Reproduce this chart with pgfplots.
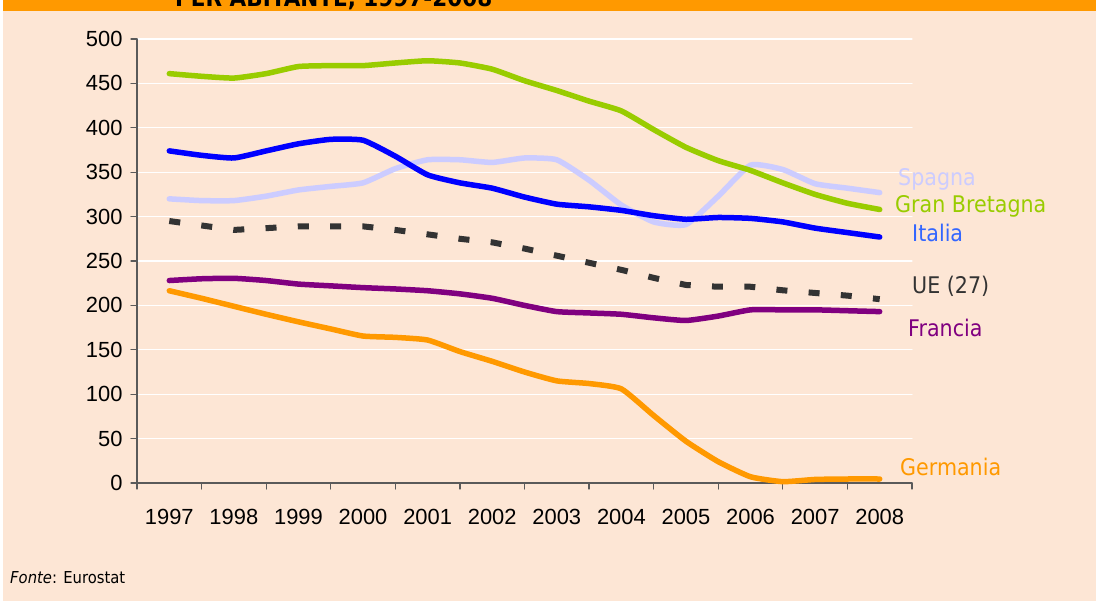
\documentclass[border=0pt]{standalone}
\usepackage{pgfplots}
\pgfplotsset{compat=1.18}
\usepackage{fontspec}
\setmainfont{Liberation Sans}
\newfontfamily\tah[FakeStretch=0.9]{DejaVu Sans}
\definecolor{bgpeach}{RGB}{253,230,213}
\definecolor{band}{RGB}{255,153,0}
\definecolor{axisgray}{RGB}{90,90,90}
\definecolor{cGB}{RGB}{153,204,0}
\definecolor{cIT}{RGB}{0,0,255}
\definecolor{cITl}{RGB}{51,102,255}
\definecolor{cES}{RGB}{204,204,255}
\definecolor{cUE}{RGB}{51,51,51}
\definecolor{cFR}{RGB}{128,0,128}
\definecolor{cDE}{RGB}{255,153,0}

\pgfplotstableread{
x y
1997 461
1997.5 458
1998 456
1998.5 461
1999 469
1999.5 470
2000 470
2000.5 473
2001 475.5
2001.5 473
2002 466
2002.5 453
2003 442
2003.5 430
2004 419
2004.5 398
2005 378
2005.5 363
2006 352
2006.5 338
2007 325
2007.5 315
2008 308
}\dataGB

\pgfplotstableread{
x y
1997 374
1997.5 369
1998 366
1998.5 374
1999 382
1999.5 387
2000 386
2000.5 368
2001 347
2001.5 338
2002 332
2002.5 322
2003 314
2003.5 311
2004 307
2004.5 301
2005 297
2005.5 299
2006 298
2006.5 294
2007 287
2007.5 282
2008 277
}\dataIT

\pgfplotstableread{
x y
1997 320
1997.5 318
1998 318
1998.5 323
1999 330
1999.5 334
2000 338
2000.5 354
2001 364
2001.5 364
2002 361
2002.5 366
2003 364
2003.5 341
2004 313
2004.5 294
2005 291
2005.5 323
2006 358
2006.5 353
2007 337
2007.5 332
2008 327
}\dataES

\pgfplotstableread{
x y
1997 295
1997.5 290
1998 285
1998.5 287
1999 289
1999.5 289
2000 289
2000.5 285
2001 280
2001.5 275
2002 271
2002.5 264
2003 256
2003.5 248
2004 240
2004.5 231
2005 223
2005.5 221
2006 221
2006.5 217
2007 214
2007.5 211
2008 207
}\dataUE

\pgfplotstableread{
x y
1997 228
1997.5 230
1998 230.5
1998.5 228
1999 224
1999.5 222
2000 220
2000.5 218.5
2001 216.5
2001.5 213
2002 208
2002.5 200
2003 193
2003.5 191.5
2004 190
2004.5 186
2005 183
2005.5 188
2006 195
2006.5 195
2007 195
2007.5 194
2008 193
}\dataFR

\pgfplotstableread{
x y
1997 216.5
1997.5 208
1998 199
1998.5 190
1999 181.5
1999.5 173.5
2000 165.5
2000.5 164
2001 161
2001.5 148
2002 137
2002.5 125
2003 115
2003.5 112
2004 106
2004.5 76
2005 47
2005.5 24
2006 7
2006.5 1.5
2007 4
2007.5 4.5
2008 4.5
}\dataDE

\begin{document}
\begin{tikzpicture}
\useasboundingbox (0,0) rectangle (1096bp,601bp);
\fill[white] (0,0) rectangle (1096bp,601bp);
\fill[bgpeach] (3bp,0) rectangle (1096bp,601bp);
\fill[band] (3bp,590bp) rectangle (1096bp,601bp);
\begin{scope}
\clip (0,0) rectangle (1096bp,601bp);
\node[anchor=base west, inner sep=0, font=\tah\bfseries\fontsize{24}{28}\selectfont] at (175bp,594bp) {PER ABITANTE, 1997-2008};
\end{scope}

\begin{axis}[
  at={(137bp,118bp)}, anchor=south west,
  scale only axis, width=775bp, height=444bp,
  xmin=1996.5, xmax=2008.5, ymin=0, ymax=500,
  axis x line*=bottom, axis y line*=left,
  axis line style={draw=axisgray, line width=1.3bp, -},
  xtick={1997,1998,1999,2000,2001,2002,2003,2004,2005,2006,2007,2008},
  xticklabels={1997,1998,1999,2000,2001,2002,2003,2004,2005,2006,2007,2008},
  minor xtick={1996.5,1997.5,1998.5,1999.5,2000.5,2001.5,2002.5,2003.5,2004.5,2005.5,2006.5,2007.5,2008.5},
  ytick={0,50,...,500},
  tick align=outside,
  major tick length=6bp, minor tick length=6bp,
  tick style={draw=axisgray, line width=1.3bp},
  major x tick style={draw=none},
  ymajorgrids,
  grid style={white, line width=1.3bp},
  tick label style={font=\fontsize{22}{26}\selectfont, text=black},
  x tick label style={yshift=-17bp},
  y tick label style={xshift=-5bp},
  /pgf/number format/assume math mode=true,
  clip=false,
  line join=round, line cap=round,
]
\addplot[cES, line width=5.5bp, smooth, tension=0.3] table[x=x,y=y] {\dataES};
\addplot[cGB, line width=5.5bp, smooth, tension=0.3] table[x=x,y=y] {\dataGB};
\addplot[cIT, line width=5.5bp, smooth, tension=0.3] table[x=x,y=y] {\dataIT};
\addplot[cUE, line width=6bp, line cap=butt, dash pattern=on 11bp off 21.3bp] table[x=x,y=y] {\dataUE};
\addplot[cFR, line width=5.5bp, smooth, tension=0.3] table[x=x,y=y] {\dataFR};
\addplot[cDE, line width=5.5bp, smooth, tension=0.3] table[x=x,y=y] {\dataDE};
\end{axis}

\begin{scope}[font=\tah\fontsize{23}{27}\selectfont]
\node[anchor=base west, inner sep=0, text=cES] at (898bp,415bp) {Spagna};
\node[anchor=base west, inner sep=0, text=cGB] at (895bp,388bp) {Gran Bretagna};
\node[anchor=base west, inner sep=0, text=cITl] at (912bp,359bp) {Italia};
\node[anchor=base west, inner sep=0, text=cUE] at (912bp,307bp) {UE (27)};
\node[anchor=base west, inner sep=0, text=cFR] at (908bp,264bp) {Francia};
\node[anchor=base west, inner sep=0, text=cDE] at (900bp,125bp) {Germania};
\end{scope}
\node[anchor=base west, inner sep=0, font=\tah\fontsize{16.5}{19}\selectfont] at (10bp,18bp) {\textit{Fonte}: Eurostat};
\end{tikzpicture}
\end{document}
